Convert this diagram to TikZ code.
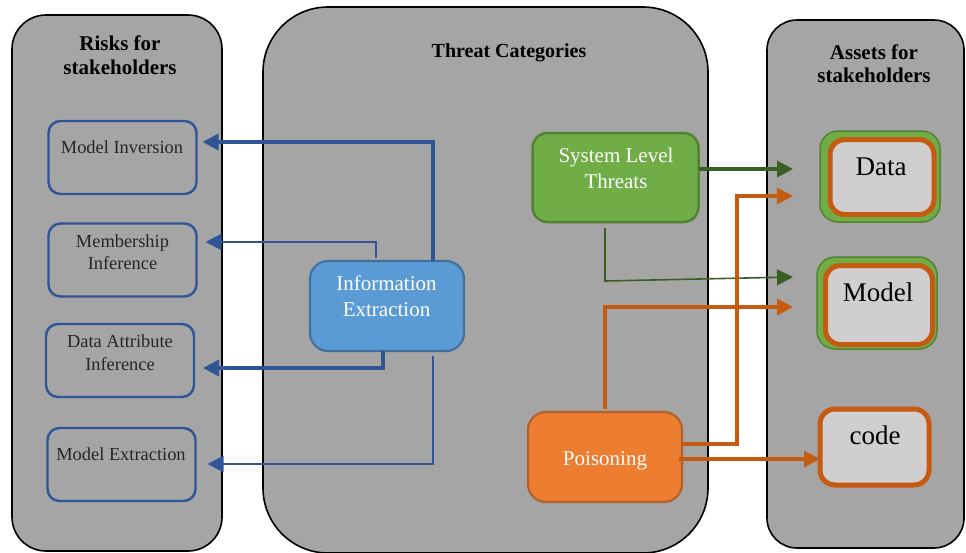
\documentclass[tikz,border=0pt]{standalone}
\usepackage{fontspec}
\setmainfont{Liberation Serif}
\usetikzlibrary{arrows.meta,calc}

\definecolor{panelgray}{HTML}{A5A5A5}
\definecolor{riskblue}{HTML}{2F5597}
\definecolor{infofill}{HTML}{5B9BD5}
\definecolor{infoline}{HTML}{41719C}
\definecolor{sysfill}{HTML}{70AD47}
\definecolor{sysline}{HTML}{548235}
\definecolor{sysarrow}{HTML}{3A5F24}
\definecolor{poisfill}{HTML}{ED7D31}
\definecolor{poisline}{HTML}{B3612A}
\definecolor{poisarrow}{HTML}{C55A11}
\definecolor{assetfill}{HTML}{D0CECE}

\begin{document}
\begin{tikzpicture}[x=1pt,y=-1pt,
  panel/.style={draw=black,line width=1.6pt,fill=panelgray},
  titletext/.style={anchor=base,inner sep=0pt,font=\fontsize{21}{24}\selectfont\bfseries},
  riskbox/.style={draw=riskblue,line width=2.4pt,rounded corners=12pt,
    minimum width=148pt,minimum height=73pt,inner sep=0pt,outer sep=0pt},
  risktext/.style={anchor=base,inner sep=0pt,text=black!85,font=\fontsize{18.4}{22}\selectfont},
  threatbox/.style={line width=2.2pt,rounded corners=18pt,inner sep=0pt,outer sep=0pt},
  threattext/.style={anchor=base,inner sep=0pt,text=white,font=\fontsize{21}{26}\selectfont},
  greenring/.style={draw=sysline,fill=sysfill,line width=1.5pt,rounded corners=18pt,
    inner sep=0pt,outer sep=0pt},
  assetbox/.style={draw=poisarrow,fill=assetfill,line width=5pt,rounded corners=15pt,
    inner sep=0pt,outer sep=0pt},
  assettext/.style={anchor=base,inner sep=0pt,font=\fontsize{27}{30}\selectfont},
  tip/.style={-{Triangle[length=16pt,width=16pt]}},
  bthick/.style={tip,draw=riskblue,line width=3.6pt},
  bthin/.style={tip,draw=riskblue,line width=2.2pt},
  gthick/.style={tip,draw=sysarrow,line width=3.6pt},
  gthin/.style={tip,draw=sysarrow,line width=1.6pt},
  othick/.style={tip,draw=poisarrow,line width=3.6pt},
  omid/.style={tip,draw=poisarrow,line width=3.2pt}
]
\useasboundingbox (0,0) rectangle (966,552);
\clip (0,0) rectangle (966,552);

% three background panels
\draw[panel,rounded corners=34pt] (12,15) rectangle (222,551);
\draw[panel,rounded corners=65pt] (263,7) rectangle (708,553);
\draw[panel,rounded corners=30pt] (767,20) rectangle (964,548);

% panel headings
\node[titletext] (rt1) at (120,50) {Risks for};
\node[titletext] (rt2) at (120,74) {stakeholders};
\node[titletext,font=\fontsize{20}{24}\selectfont\bfseries] (tt) at (509,57) {Threat Categories};
\node[titletext] (at1) at (874,59) {Assets for};
\node[titletext] (at2) at (874,82) {stakeholders};

% risks
\node[riskbox] (mi) at (122.5,157.5) {};
\node[risktext] at (122,153) {Model Inversion};
\node[riskbox] (mb) at (122.5,260) {};
\node[risktext] at (122.5,247) {Membership};
\node[risktext] at (122.5,269) {Inference};
\node[riskbox] (da) at (120,360.5) {};
\node[risktext] at (120,347) {Data Attribute};
\node[risktext] at (120,370) {Inference};
\node[riskbox] (me) at (121.5,464.5) {};
\node[risktext] at (121,460) {Model Extraction};

% threat categories
\node[threatbox,draw=infoline,fill=infofill,minimum width=154pt,minimum height=90pt]
  (ie) at (387,306) {};
\node[threattext] at (386.5,290) {Information};
\node[threattext] at (386.5,316) {Extraction};

\node[threatbox,draw=sysline,line width=2.5pt,fill=sysfill,rounded corners=15pt,
  minimum width=166pt,minimum height=89pt] (slt) at (615.5,177.5) {};
\node[threattext] at (616,162) {System Level};
\node[threattext] at (616,188) {Threats};

\node[threatbox,draw=poisline,fill=poisfill,minimum width=154pt,minimum height=90pt]
  (pois) at (605,457) {};
\node[threattext] at (605,465) {Poisoning};

% assets
\node[greenring,minimum width=120pt,minimum height=91pt] (data) at (880,176.5) {};
\node[assetbox,minimum width=104pt,minimum height=75pt] (datain) at (882,177) {};
\node[assettext] at (881,175) {Data};

\node[greenring,minimum width=120pt,minimum height=92pt] (model) at (877,303) {};
\node[assetbox,minimum width=107pt,minimum height=79pt] (modelin) at (879,305) {};
\node[assettext] at (878,301) {Model};

\node[assetbox,minimum width=109pt,minimum height=76pt] (code) at (874.5,447) {};
\node[assettext] at (875,444) {code};

% information extraction -> risks
\draw[bthick] (ie.north -| 433,0) |- ([xshift=6pt]mi.east |- 0,142);
\draw[bthin] ([yshift=3pt]ie.north -| 376,0) |- ([xshift=9pt]mb.east |- 0,242);
\draw[bthick] (ie.south -| 383,0) |- ([xshift=9pt]da.east |- 0,368);
\draw[bthin] ([yshift=-5pt]ie.south -| 433,0) |- ([xshift=12pt]me.east |- 0,464);

% system level threats -> assets
\draw[gthick] (slt.east |- 0,169) -- ([xshift=-27pt]data.west |- 0,169);
\draw[gthin] ([yshift=-6pt]slt.south -| 605,0) -- (605,281) -- ([xshift=-24pt]model.west |- 0,277);

% poisoning -> assets
\draw[othick] ([yshift=3pt]pois.north -| 605,0) |- ([xshift=-24pt]model.west |- 0,307);
\draw[omid] (pois.east |- 0,444) -- (737,444) -- (737,196) -- ([xshift=-27pt]data.west |- 0,196);
\draw[omid] ([xshift=-3pt]pois.east |- 0,459) -- (code.west |- 0,459);
\end{tikzpicture}
\end{document}
